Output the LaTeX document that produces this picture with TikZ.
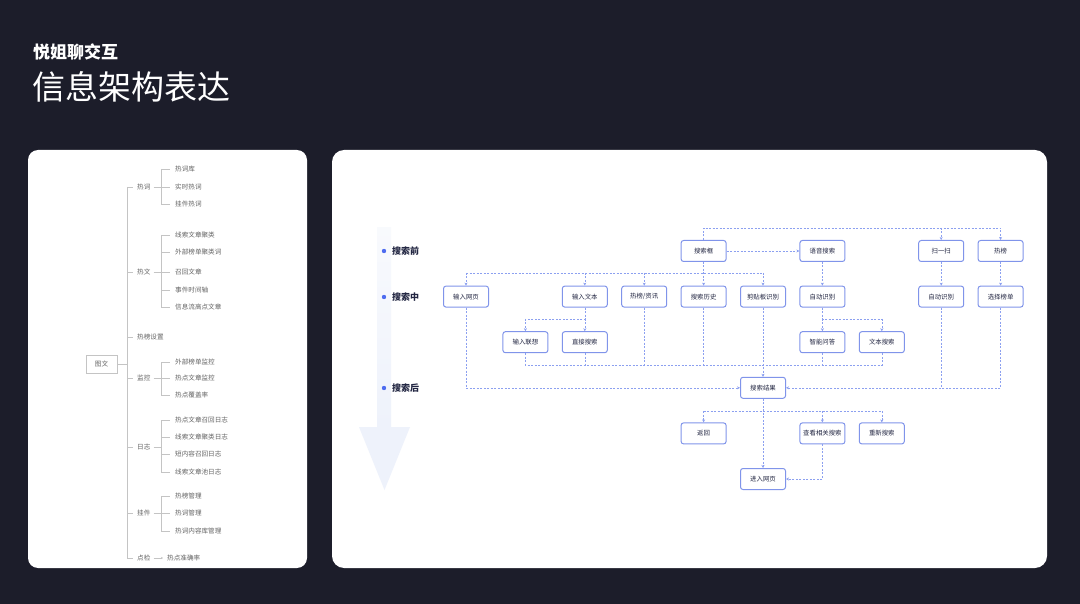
\documentclass[tikz,border=0pt]{standalone}
\usepackage{fontspec}
\newfontfamily\cjk{Noto Sans CJK SC}
\usetikzlibrary{arrows.meta,positioning}
\definecolor{pagebg}{RGB}{28,29,42}
\definecolor{treegray}{RGB}{196,196,196}
\definecolor{treetext}{RGB}{100,100,100}
\definecolor{flowblue}{RGB}{128,148,234}
\definecolor{dashblue}{RGB}{140,160,240}
\definecolor{dotblue}{RGB}{78,108,240}
\definecolor{stagetext}{RGB}{34,38,66}
\definecolor{arrowfill}{RGB}{238,242,251}

\tikzset{
  leaf/.style={font=\cjk\fontsize{6.6}{7}\selectfont, text=treetext, anchor=west, inner sep=0pt},
  twig/.style={treegray, line width=0.7pt},
  rootbox/.style={draw=treegray, fill=white, minimum width=31pt, minimum height=18pt, inner sep=0pt,
    font=\cjk\fontsize{6.6}{7}\selectfont, text=treetext},
  flowbox/.style={draw=flowblue, line width=1pt, rounded corners=2.5pt, fill=white,
    minimum width=45pt, minimum height=21pt, inner sep=0pt,
    font=\cjk\fontsize{6.4}{7}\selectfont, text=stagetext},
  flowplain/.style={dashblue, line width=0.6pt, dash pattern=on 2pt off 1.5pt},
  flowline/.style={flowplain, -{Stealth[length=3pt,width=3pt]}},
  stage/.style={font=\cjk\bfseries\fontsize{9}{10}\selectfont, text=stagetext, anchor=west, inner sep=0pt},
}

\begin{document}
\begin{tikzpicture}[x=1pt,y=-1pt]
  % page and panels
  \fill[pagebg] (0,0) rectangle (1080,604);
  \useasboundingbox (0,0) rectangle (1080,604);
  \fill[white, rounded corners=10pt] (28,150) rectangle (307,568);
  \fill[white, rounded corners=12pt] (332,150) rectangle (1047,568);
  \node[anchor=west, inner sep=0pt, text=white, font=\cjk\bfseries\fontsize{17}{18}\selectfont] (brand) at (33,52) {悦姐聊交互};
  \node[anchor=west, inner sep=0pt, text=white, font=\cjk\fontsize{33}{35}\selectfont] (title) at (32,87) {信息架构表达};

  % ---- tree ----
  \node[rootbox] (tuwen) at (101.5,364) {图文};
  \coordinate (trunk) at (127,364);
  \draw[twig] (tuwen) -- (trunk);
  \foreach \nm/\txt/\y in {rc/热词/187, rw/热文/272, rbsz/热榜设置/337, jk/监控/378, rz/日志/447, gj/挂件/513, dj/点检/558}{
    \node[leaf] (\nm) at (137,\y) {\txt};
    \draw[twig] (trunk |- \nm.west) -- ([xshift=-4pt]\nm.west);
  }
  \draw[twig] (trunk |- rc.west) -- (trunk |- dj.west);

  % hot words
  \coordinate (rcs) at (161,187);
  \draw[twig] ([xshift=3pt]rc.east) -- (rcs);
  \foreach \nm/\txt/\y in {rc1/热词库/169, rc2/实时热词/187, rc3/挂件热词/204}{
    \node[leaf] (\nm) at (175,\y) {\txt};
    \draw[twig] (rcs |- \nm.west) -- ([xshift=-5pt]\nm.west);
  }
  \draw[twig] (rcs |- rc1.west) -- (rcs |- rc3.west);

  % hot articles
  \coordinate (rws) at (161,272);
  \draw[twig] ([xshift=3pt]rw.east) -- (rws);
  \foreach \nm/\txt/\y in {rw1/线索文章聚类/235, rw2/外部榜单聚类词/252, rw3/召回文章/272, rw4/事件时间轴/290, rw5/信息流高点文章/307}{
    \node[leaf] (\nm) at (175,\y) {\txt};
    \draw[twig] (rws |- \nm.west) -- ([xshift=-5pt]\nm.west);
  }
  \draw[twig] (rws |- rw1.west) -- (rws |- rw5.west);

  % monitoring
  \coordinate (jks) at (161,378);
  \draw[twig] ([xshift=3pt]jk.east) -- (jks);
  \foreach \nm/\txt/\y in {jk1/外部榜单监控/362, jk2/热点文章监控/378, jk3/热点覆盖率/395}{
    \node[leaf] (\nm) at (175,\y) {\txt};
    \draw[twig] (jks |- \nm.west) -- ([xshift=-5pt]\nm.west);
  }
  \draw[twig] (jks |- jk1.west) -- (jks |- jk3.west);

  % logs
  \coordinate (rzs) at (161,447);
  \draw[twig] ([xshift=3pt]rz.east) -- (rzs);
  \foreach \nm/\txt/\y in {rz1/热点文章召回日志/420, rz2/线索文章聚类日志/437, rz3/短内容召回日志/454, rz4/线索文章池日志/472}{
    \node[leaf] (\nm) at (175,\y) {\txt};
    \draw[twig] (rzs |- \nm.west) -- ([xshift=-5pt]\nm.west);
  }
  \draw[twig] (rzs |- rz1.west) -- (rzs |- rz4.west);

  % widgets
  \coordinate (gjs) at (161,513);
  \draw[twig] ([xshift=3pt]gj.east) -- (gjs);
  \foreach \nm/\txt/\y in {gj1/热榜管理/496, gj2/热词管理/513, gj3/热词内容库管理/531}{
    \node[leaf] (\nm) at (175,\y) {\txt};
    \draw[twig] (gjs |- \nm.west) -- ([xshift=-5pt]\nm.west);
  }
  \draw[twig] (gjs |- gj1.west) -- (gjs |- gj3.west);

  % check
  \node[leaf] (dj1) at (167,558) {热点准确率};
  \draw[twig, -{Stealth[length=2pt,width=2pt]}] ([xshift=3pt]dj.east) -- ([xshift=-4pt]dj1.west);

  % ---- stages ----
  \shade[top color=arrowfill!40, bottom color=arrowfill] (377,228) rectangle (391,427);
  \fill[arrowfill] (359,427) -- (410,427) -- (384.5,490) -- cycle;
  \foreach \nm/\txt/\y in {qian/搜索前/251, zhong/搜索中/297, hou/搜索后/388}{
    \node[stage] (\nm) at (392,\y) {\txt};
    \fill[dotblue] ([xshift=-8pt]\nm.west) circle (2.2pt);
  }

  % ---- flow boxes ----
  \foreach \nm/\txt/\c/\r in {
      sskuang/搜索框/4/0, yuyin/语音搜索/6/0, saoyisao/扫一扫/8/0, rebang/热榜/9/0,
      wangye/输入网页/0/1, wenben/输入文本/2/1, rbzx/{热榜/资讯}/3/1, lishi/搜索历史/4/1,
      jianqie/剪贴板识别/5/1, zidong/自动识别/6/1, zidongb/自动识别/8/1, bangdan/选择榜单/9/1,
      lianxiang/输入联想/1/2, zhijie/直接搜索/2/2, wenda/智能问答/6/2, wbss/文本搜索/7/2,
      jieguo/搜索结果/5/3,
      fanhui/返回/4/4, chakan/查看相关搜索/6/4, chongxin/重新搜索/7/4,
      jinru/进入网页/5/5}{
    \node[flowbox] (\nm) at ({466+59.4*\c},{251+45.6*\r}) {\txt};
  }

  % before search
  \coordinate (topbus) at (0,228);
  \draw[flowline] (sskuang.north) |- (topbus -| rebang) -- (rebang.north);
  \draw[flowline] (topbus -| saoyisao) -- (saoyisao.north);
  \draw[flowline] (sskuang) -- (yuyin);

  % during search
  \coordinate (midbus) at (0,273);
  \draw[flowline] (sskuang.south) -- (lishi.north);
  \draw[flowplain] (midbus -| wangye) -- (midbus -| jianqie);
  \foreach \nm in {wangye, wenben, rbzx, jianqie}
    \draw[flowline] (midbus -| \nm) -- (\nm.north);
  \draw[flowline] (yuyin) -- (zidong);
  \draw[flowline] (saoyisao) -- (zidongb);
  \draw[flowline] (rebang) -- (bangdan);

  \coordinate (subbus) at (0,319);
  \draw[flowplain] (wenben.south) -- (subbus -| wenben) -- (subbus -| lianxiang);
  \draw[flowline] (subbus -| lianxiang) -- (lianxiang.north);
  \draw[flowline] (subbus -| zhijie) -- (zhijie.north);
  \draw[flowplain] (zidong.south) -- (subbus -| zidong) -- (subbus -| wbss);
  \draw[flowline] (subbus -| wenda) -- (wenda.north);
  \draw[flowline] (subbus -| wbss) -- (wbss.north);

  % into results
  \coordinate (lowbus) at (0,365);
  \draw[flowplain] (lianxiang.south) |- (lowbus -| wbss) -- (wbss.south);
  \foreach \nm in {zhijie, rbzx, lishi, wenda}
    \draw[flowplain] (\nm.south) -- (lowbus -| \nm);
  \draw[flowline] (jianqie.south) -- (jieguo.north);
  \draw[flowline] (wangye.south) |- (jieguo.west);
  \draw[flowline] (bangdan.south) |- (jieguo.east);
  \draw[flowplain] (zidongb.south) -- (zidongb |- jieguo);

  % after search
  \coordinate (outbus) at (0,411);
  \draw[flowline] (jieguo.south) -- (jinru.north);
  \draw[flowplain] (outbus -| fanhui) -- (outbus -| chongxin);
  \foreach \nm in {fanhui, chakan, chongxin}
    \draw[flowline] (outbus -| \nm) -- (\nm.north);
  \draw[flowline] (chakan.south) |- (jinru.east);
\end{tikzpicture}
\end{document}
